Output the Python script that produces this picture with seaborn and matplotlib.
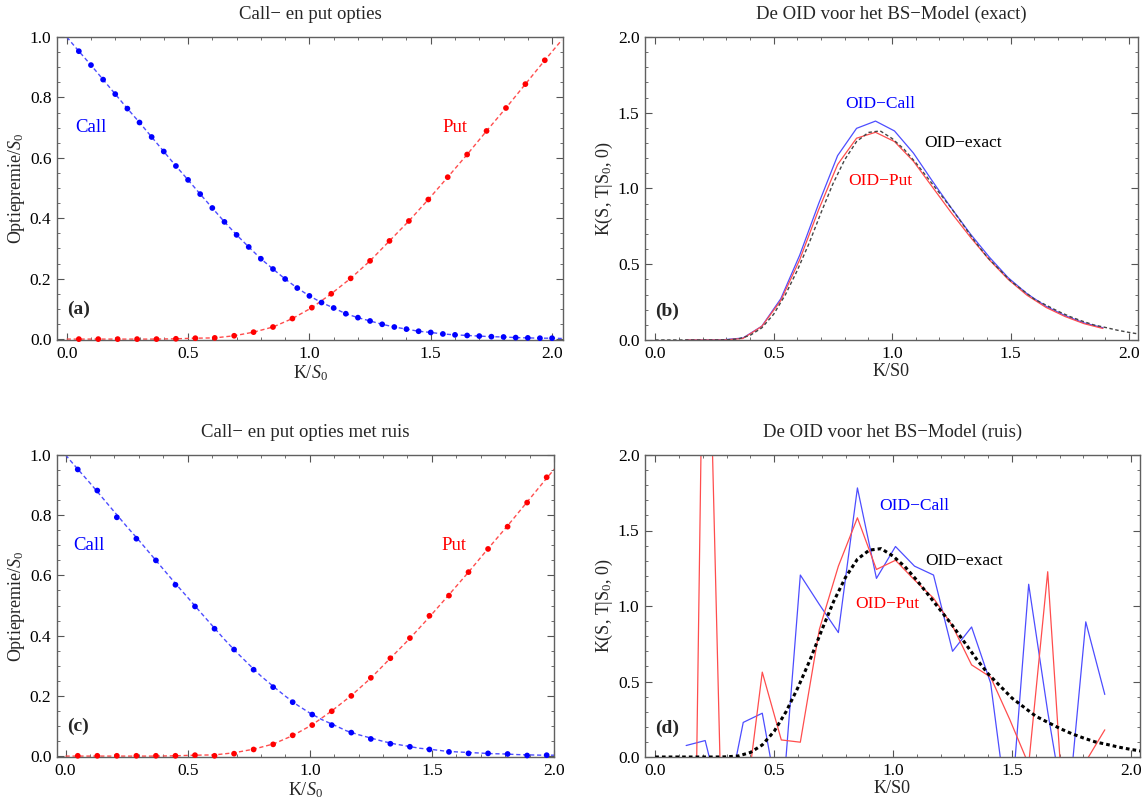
import numpy as np
import pandas as pd
import matplotlib
matplotlib.use("Agg")
import matplotlib.pyplot as plt
import seaborn as sns
from matplotlib.ticker import MultipleLocator, FormatStrFormatter

# ---------------- data ----------------
# Panel (a): exact option prices
call_a_k = [0.05, 0.10, 0.15, 0.20, 0.25, 0.30, 0.35, 0.40, 0.45, 0.50,
            0.55, 0.60, 0.65, 0.70, 0.75, 0.80, 0.85, 0.90, 0.95, 1.00,
            1.05, 1.10, 1.15, 1.20, 1.25, 1.30, 1.35, 1.40, 1.45, 1.50,
            1.55, 1.60, 1.65, 1.70, 1.75, 1.80, 1.85, 1.90, 1.95, 2.00]
call_a_v = [0.953, 0.907, 0.859, 0.811, 0.763, 0.717, 0.669, 0.621, 0.573, 0.527,
            0.480, 0.434, 0.388, 0.345, 0.305, 0.266, 0.232, 0.199, 0.169, 0.143,
            0.121, 0.103, 0.084, 0.071, 0.060, 0.049, 0.040, 0.033, 0.026, 0.022,
            0.017, 0.014, 0.012, 0.010, 0.008, 0.007, 0.005, 0.004, 0.003, 0.003]
put_k = [0.05, 0.13, 0.21, 0.29, 0.37, 0.45, 0.53, 0.61, 0.69, 0.77,
         0.85, 0.93, 1.01, 1.09, 1.17, 1.25, 1.33, 1.41, 1.49, 1.57,
         1.65, 1.73, 1.81, 1.89, 1.97]
put_a_v = [0.000, 0.000, 0.000, 0.000, 0.000, 0.001, 0.003, 0.004, 0.011, 0.023,
           0.040, 0.068, 0.104, 0.150, 0.201, 0.259, 0.325, 0.391, 0.462, 0.536,
           0.611, 0.689, 0.765, 0.844, 0.923]
# exact curves (dashed): end points read at the frame edges
call_curve_k = [0.0] + call_a_k + [2.04]
call_curve_v = [1.0] + call_a_v + [0.002]
put_curve_k = [0.0] + put_k + [2.04]
put_curve_v = [0.0] + put_a_v + [0.99]

# Panel (c): noisy option prices
call_c_v = [0.952, 0.882, 0.793, 0.722, 0.650, 0.569, 0.497, 0.423, 0.354, 0.287,
            0.229, 0.179, 0.138, 0.103, 0.078, 0.057, 0.041, 0.031, 0.022, 0.014,
            0.009, 0.009, 0.007, 0.002, 0.003]
put_c_v = [0.001, 0.001, 0.001, 0.001, 0.001, 0.001, 0.003, 0.001, 0.008, 0.022,
           0.039, 0.069, 0.103, 0.149, 0.200, 0.260, 0.325, 0.392, 0.466, 0.533,
           0.611, 0.688, 0.762, 0.842, 0.926]

# Panels (b), (d): implied densities
oid_k = [0.13, 0.21, 0.29, 0.37, 0.45, 0.53, 0.61, 0.69, 0.77, 0.85,
         0.93, 1.01, 1.09, 1.17, 1.25, 1.33, 1.41, 1.49, 1.57, 1.65,
         1.73, 1.81, 1.89]
oid_call_b = [0.000, 0.000, 0.002, 0.013, 0.091, 0.272, 0.560, 0.900, 1.217, 1.397,
              1.445, 1.380, 1.234, 1.049, 0.871, 0.701, 0.548, 0.411, 0.305, 0.222,
              0.161, 0.113, 0.081]
oid_put_b = [0.000, 0.000, 0.000, 0.010, 0.090, 0.260, 0.530, 0.860, 1.158, 1.332,
             1.371, 1.310, 1.180, 1.010, 0.840, 0.680, 0.530, 0.400, 0.295, 0.215,
             0.155, 0.108, 0.076]
oid_call_d = [0.076, 0.109, -0.40, 0.229, 0.290, -0.40, 1.205, 1.010, 0.824, 1.782,
              1.183, 1.394, 1.264, 1.205, 0.700, 0.861, 0.490, -0.48, 1.144, 0.300,
              -0.45, 0.895, 0.414]
oid_put_d = [-5.0, 4.0, -1.16, -0.44, 0.562, 0.113, 0.098, 0.845, 1.264, 1.584,
             1.242, 1.303, 1.172, 1.052, 0.867, 0.610, 0.529, 0.250, -0.05, 1.227,
             -0.70, -0.03, 0.180]
exact_k = [0.0, 0.1, 0.2, 0.25, 0.3, 0.35, 0.4, 0.45, 0.5, 0.55, 0.6, 0.65, 0.7,
           0.75, 0.8, 0.85, 0.9, 0.95, 1.0, 1.05, 1.1, 1.15, 1.2, 1.25, 1.3,
           1.35, 1.4, 1.45, 1.5, 1.55, 1.6, 1.65, 1.7, 1.75, 1.8, 1.85, 1.9,
           1.95, 2.0, 2.04]
exact_v = [0.0, 0.0, 0.0, 0.0, 0.001, 0.007, 0.03, 0.08, 0.17, 0.30, 0.46, 0.64, 0.84,
           1.03, 1.19, 1.31, 1.37, 1.38, 1.33, 1.26, 1.17, 1.07, 0.97, 0.87, 0.76,
           0.65, 0.55, 0.47, 0.39, 0.33, 0.27, 0.23, 0.19, 0.155, 0.126, 0.10, 0.083,
           0.065, 0.05, 0.04]

# ---------------- style ----------------
sns.set_theme(style="ticks")
plt.rcParams['font.family'] = ['Liberation Serif', 'DejaVu Serif']
plt.rcParams['mathtext.fontset'] = 'custom'
plt.rcParams['mathtext.rm'] = 'Liberation Serif'
plt.rcParams['mathtext.it'] = 'Liberation Serif:italic'
plt.rcParams['mathtext.bf'] = 'Liberation Serif:bold'

BLUE = '#0000ff'
RED = '#ff0000'
LBLUE = '#4d4dff'
LRED = '#ff4d4d'

fig = plt.figure(figsize=(11.43, 8.07), dpi=100)
W, H = 1143, 807


def add_axes(l, r, t, b):
    return fig.add_axes([l / W, 1 - b / H, (r - l) / W, (b - t) / H])


ax_a = add_axes(57, 563, 37, 340)
ax_b = add_axes(645, 1138, 37, 340)
ax_c = add_axes(57, 554, 455, 757)
ax_d = add_axes(645, 1140, 455, 757)


def style(ax, xlim, ylim, ymaj, ymin):
    ax.set_xlim(*xlim)
    ax.set_ylim(*ylim)
    ax.xaxis.set_major_locator(MultipleLocator(0.5))
    ax.xaxis.set_minor_locator(MultipleLocator(0.1))
    ax.yaxis.set_major_locator(MultipleLocator(ymaj))
    ax.yaxis.set_minor_locator(MultipleLocator(ymin))
    ax.xaxis.set_major_formatter(FormatStrFormatter('%.1f'))
    ax.yaxis.set_major_formatter(FormatStrFormatter('%.1f'))
    ax.tick_params(which='both', direction='in', top=True, right=True,
                   color='#555555', labelcolor='black', labelsize=12.5, pad=4)
    ax.tick_params(which='major', length=5, width=0.8)
    ax.tick_params(which='minor', length=2.5, width=0.6)
    for s in ax.spines.values():
        s.set_visible(True)
        s.set_color('#606060')
        s.set_linewidth(1.0)
    ax.grid(False)


def line(ax, k, v, color, lw, ls='-', z=2):
    sns.lineplot(x=k, y=v, ax=ax, color=color, lw=lw, linestyle=ls,
                 estimator=None, sort=False, zorder=z)


def dots(ax, k, v, color):
    sns.scatterplot(x=k, y=v, ax=ax, color=color, s=17, edgecolor='none',
                    linewidth=0, clip_on=False, zorder=3)


def labels(ax, title, xl, yl):
    ax.set_title(title, fontsize=13.5, pad=13)
    ax.set_xlabel(xl, fontsize=13, labelpad=1)
    ax.set_ylabel(yl, fontsize=13, labelpad=2)


# ---- (a) ----
line(ax_a, call_curve_k, call_curve_v, LBLUE, 1.0, (0, (3, 2)))
line(ax_a, put_curve_k, put_curve_v, LRED, 1.0, (0, (3, 2)))
dots(ax_a, call_a_k, call_a_v, BLUE)
dots(ax_a, put_k, put_a_v, RED)
style(ax_a, (-0.04, 2.045), (-0.003, 1.0), 0.2, 0.05)
labels(ax_a, "Call\u2212 en put opties", "K/$S_0$", "Optiepremie/$S_0$")
ax_a.text(0.10, 0.70, "Call", color=BLUE, fontsize=13.5, ha='center', va='center')
ax_a.text(1.60, 0.70, "Put", color=RED, fontsize=13.5, ha='center', va='center')
ax_a.text(0.05, 0.098, "(a)", fontsize=14, fontweight='bold', ha='center', va='center')

# ---- (c) ----
line(ax_c, call_curve_k, call_curve_v, LBLUE, 1.0, (0, (3, 2)))
line(ax_c, put_curve_k, put_curve_v, LRED, 1.0, (0, (3, 2)))
dots(ax_c, put_k, call_c_v, BLUE)
dots(ax_c, put_k, put_c_v, RED)
style(ax_c, (-0.035, 2.0), (-0.003, 1.0), 0.2, 0.05)
labels(ax_c, "Call\u2212 en put opties met ruis", "K/$S_0$", "Optiepremie/$S_0$")
ax_c.text(0.095, 0.70, "Call", color=BLUE, fontsize=13.5, ha='center', va='center')
ax_c.text(1.59, 0.70, "Put", color=RED, fontsize=13.5, ha='center', va='center')
ax_c.text(0.05, 0.10, "(c)", fontsize=14, fontweight='bold', ha='center', va='center')

# ---- (b) ----
line(ax_b, exact_k, exact_v, '#444444', 1.0, (0, (2.5, 1.8)), z=3)
line(ax_b, oid_k, oid_call_b, LBLUE, 0.9)
line(ax_b, oid_k, oid_put_b, LRED, 0.9)
style(ax_b, (-0.043, 2.038), (0, 2.0), 0.5, 0.1)
labels(ax_b, "De OID voor het BS\u2212Model (exact)", "K/S0", r"K(S, T|$\mathrm{S}_0$, 0)")
ax_b.text(0.95, 1.555, "OID\u2212Call", color=BLUE, fontsize=12.5, ha='center', va='center')
ax_b.text(1.30, 1.30, "OID\u2212exact", color='black', fontsize=12.5, ha='center', va='center')
ax_b.text(0.95, 1.05, "OID\u2212Put", color=RED, fontsize=12.5, ha='center', va='center')
ax_b.text(0.05, 0.19, "(b)", fontsize=14, fontweight='bold', ha='center', va='center')

# ---- (d) ----
line(ax_d, oid_k, oid_call_d, LBLUE, 0.9)
line(ax_d, oid_k, oid_put_d, LRED, 0.9)
line(ax_d, exact_k, exact_v, 'black', 2.2, (0, (1.2, 1.0)), z=3)
style(ax_d, (-0.043, 2.038), (0, 2.0), 0.5, 0.1)
labels(ax_d, "De OID voor het BS\u2212Model (ruis)", "K/S0", r"K(S, T|$\mathrm{S}_0$, 0)")
ax_d.text(1.09, 1.66, "OID\u2212Call", color=BLUE, fontsize=12.5, ha='center', va='center')
ax_d.text(1.30, 1.30, "OID\u2212exact", color='black', fontsize=12.5, ha='center', va='center')
ax_d.text(0.975, 1.01, "OID\u2212Put", color=RED, fontsize=12.5, ha='center', va='center')
ax_d.text(0.05, 0.19, "(d)", fontsize=14, fontweight='bold', ha='center', va='center')

fig.savefig("out.png", dpi=100)
